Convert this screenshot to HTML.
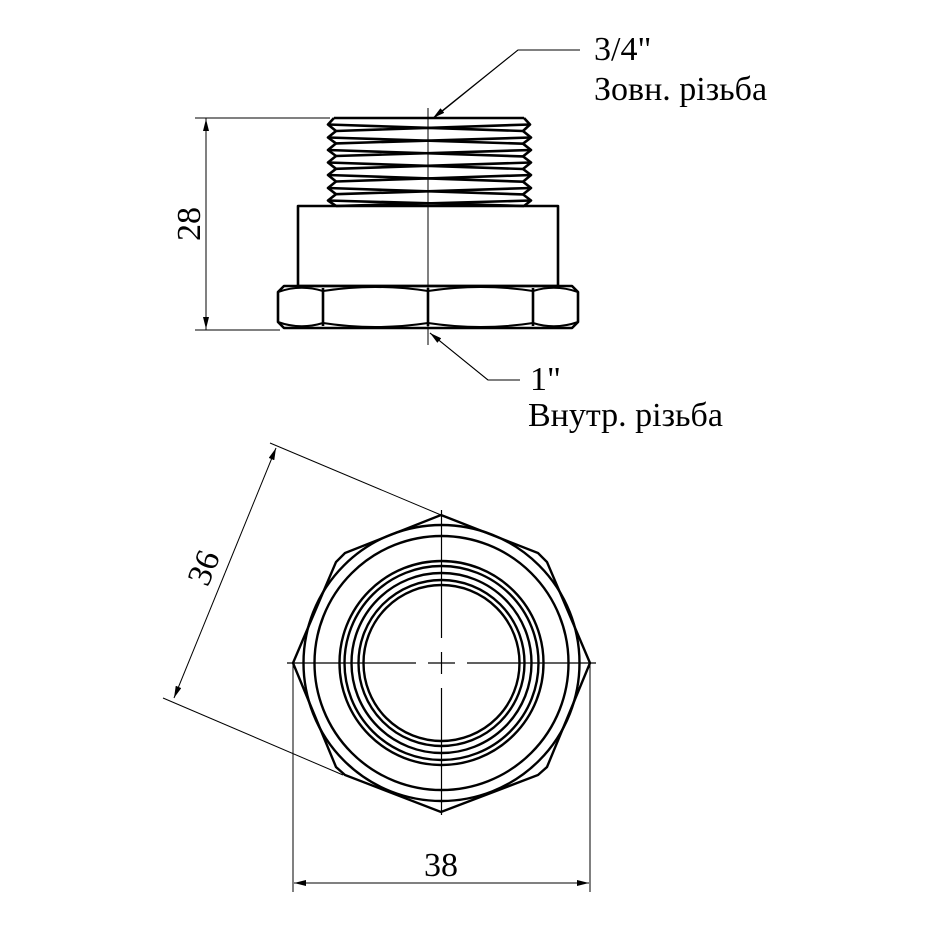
<!DOCTYPE html>
<html><head><meta charset="utf-8"><style>
html,body{margin:0;padding:0;background:#fff;}
svg{display:block}
text{font-family:"Liberation Serif",serif;fill:#000}
</style></head><body>
<svg width="930" height="930" viewBox="0 0 930 930" xmlns="http://www.w3.org/2000/svg">
<defs>
<marker id="a" viewBox="0 0 12 6" refX="12" refY="3" markerWidth="12" markerHeight="6" orient="auto" markerUnits="userSpaceOnUse"><path d="M0,0 L12,3 L0,6 Z" fill="#000"/></marker>
</defs>
<g stroke="#000" fill="none">
<g stroke-width="2.6" stroke-linejoin="round">
<polyline points="334,118 328,124.5 336,131 328,137.5 336,143.4 328,150 336,156 328,162.5 336,168.8 328,175 336,181.5 328,188 336,194.2 328,200.5 336,206"/>
<polyline points="524,118 530,124.5 523,131 531,137.5 523,143.7 531,150 523,156.4 531,162.5 523,169 531,175 523,181.7 531,188 523,194.4 531,200.5 524,206"/>
<line x1="334" y1="118" x2="524" y2="118"/>
<line x1="336" y1="131" x2="530" y2="124.5"/>
<line x1="336" y1="143.4" x2="531" y2="137.5"/>
<line x1="336" y1="156" x2="531" y2="150"/>
<line x1="336" y1="168.8" x2="531" y2="162.5"/>
<line x1="336" y1="181.5" x2="531" y2="175"/>
<line x1="336" y1="194.2" x2="531" y2="188"/>
<line x1="336" y1="206" x2="531" y2="200.5"/>
<line x1="328" y1="124.5" x2="523" y2="131"/>
<line x1="328" y1="137.5" x2="523" y2="143.7"/>
<line x1="328" y1="150" x2="523" y2="156.4"/>
<line x1="328" y1="162.5" x2="523" y2="169"/>
<line x1="328" y1="175" x2="523" y2="181.7"/>
<line x1="328" y1="188" x2="523" y2="194.4"/>
<line x1="328" y1="200.5" x2="524" y2="206"/>
<rect x="298" y="206" width="260" height="80"/>
<polygon points="284,286 572,286 578,292 578,322 572,328 284,328 278,322 278,292"/>
<line x1="323" y1="288" x2="323" y2="326"/>
<line x1="428" y1="288" x2="428" y2="326"/>
<line x1="533" y1="288" x2="533" y2="326"/>
<path d="M278,292 Q300,284 323,291 Q375,283 428,291 Q481,283 533,291 Q555,284 578,292" stroke-width="2"/>
<path d="M278,322 Q300,330 323,323 Q375,331 428,323 Q481,331 533,323 Q555,330 578,322" stroke-width="2"/>
</g>
<g stroke-width="1">
<line x1="428" y1="108" x2="428" y2="345"/>
<line x1="195" y1="118" x2="330" y2="118"/>
<line x1="195" y1="330" x2="280" y2="330"/>
<line x1="206" y1="330" x2="206" y2="119" marker-end="url(#a)"/>
<line x1="206" y1="118" x2="206" y2="329" marker-end="url(#a)"/>
<polyline points="580,50 518,50 434,118" />
<line x1="518" y1="50" x2="433" y2="118" marker-end="url(#a)"/>
<polyline points="520,380 488,380 430,333"/>
<line x1="488" y1="380" x2="430" y2="333" marker-end="url(#a)"/>
</g>
<g stroke-width="2.4">
<polygon points="441,515 538,553 547,562 590,663 547,767 538,775 441,812 345,775 336,767 293,663 336,562 345,553"/>
<circle cx="441.5" cy="663" r="138"/>
<circle cx="441.5" cy="663" r="127"/>
<circle cx="441.5" cy="663" r="102"/>
<circle cx="441.5" cy="663" r="97"/>
<circle cx="441.5" cy="663" r="90"/>
<circle cx="441.5" cy="663" r="83"/>
<circle cx="441.5" cy="663" r="78"/>
</g>
<g stroke-width="1.2">
<line x1="441.5" y1="510" x2="441.5" y2="638"/>
<line x1="441.5" y1="652" x2="441.5" y2="674"/>
<line x1="441.5" y1="688" x2="441.5" y2="815"/>
<line x1="287" y1="663" x2="416" y2="663"/>
<line x1="428" y1="663" x2="455" y2="663"/>
<line x1="467" y1="663" x2="596" y2="663"/>
</g>
<g stroke-width="1">
<line x1="270" y1="443" x2="441" y2="515"/>
<line x1="163" y1="698" x2="343" y2="775"/>
<line x1="225" y1="573" x2="276" y2="448" marker-end="url(#a)"/>
<line x1="225" y1="573" x2="174" y2="698" marker-end="url(#a)"/>
<line x1="293" y1="663" x2="293" y2="892"/>
<line x1="590" y1="663" x2="590" y2="892"/>
<line x1="441" y1="883" x2="294" y2="883" marker-end="url(#a)"/>
<line x1="441" y1="883" x2="589" y2="883" marker-end="url(#a)"/>
</g>
</g>
<g font-size="34">
<text x="594" y="60">3/4"</text>
<text x="594" y="100">Зовн. різьба</text>
<text x="530" y="390">1"</text>
<text x="528" y="426">Внутр. різьба</text>
<text x="441" y="876" text-anchor="middle">38</text>
<text transform="translate(200,224) rotate(-90)" text-anchor="middle">28</text>
<text transform="translate(214,572) rotate(-68)" text-anchor="middle">36</text>
</g>
</svg>
</body></html>
